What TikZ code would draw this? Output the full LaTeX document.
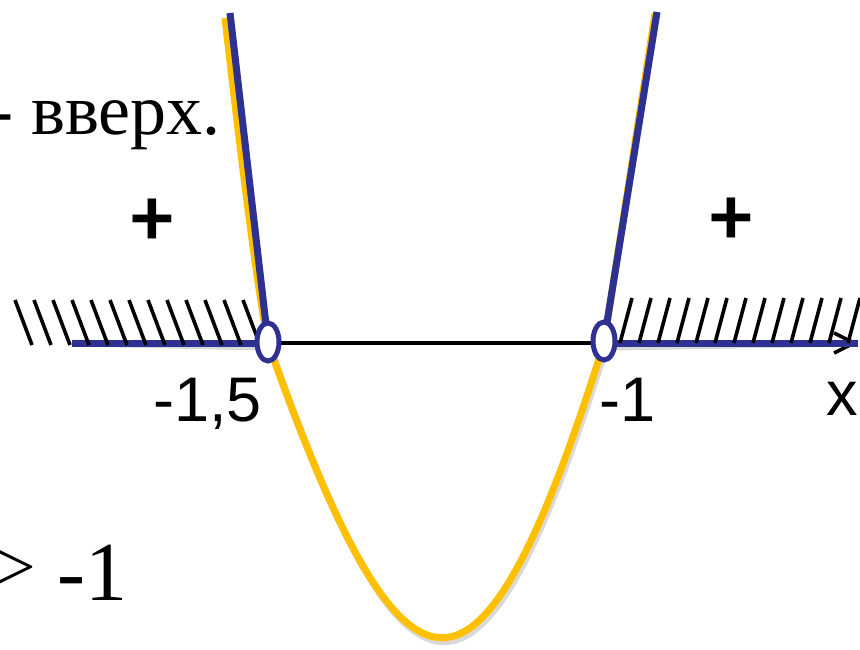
\documentclass[tikz,border=0pt]{standalone}
\usepackage{fontspec}
\setmainfont{Liberation Serif}
\newfontfamily\calfont{Carlito}
\newfontfamily\arfont{Liberation Sans}
\usetikzlibrary{arrows.meta,shapes.geometric}
\definecolor{curveblue}{HTML}{2E3192}
\definecolor{curveyellow}{HTML}{FFC000}
\tikzset{
  hatch/.style={line width=3.6pt, black},
  bluel/.style={line width=7pt, curveblue},
  yel/.style={line width=7pt, curveyellow},
  shadowl/.style={line width=7pt, black!25, opacity=0.6},
  hole/.style={draw=curveblue, fill=white, line width=5pt, ellipse, minimum width=22pt, minimum height=38pt, inner sep=0pt},
  lab/.style={inner sep=0pt, font=\arfont\fontsize{63}{63}\selectfont},
  sgn/.style={inner sep=0pt, font=\calfont\bfseries\fontsize{84}{84}\selectfont},
}
\begin{document}
\begin{tikzpicture}[x=1pt,y=-1pt]
\useasboundingbox (0,0) rectangle (860,650);
% named points
\coordinate (L) at (268,342);
\coordinate (R) at (604,341);
\coordinate (axL) at (72,343);
\coordinate (axR) at (858,343);
\coordinate (ltop) at (230,13);
\coordinate (rtop) at (657,12);
\coordinate (ytopL) at (225,18);
\coordinate (ytopR) at (655,14);
% shadows
\begin{scope}[shift={(2,4)}]
  \draw[shadowl] (axL) -- (262,343);
  \draw[shadowl] (612,343) -- (axR);
  \draw[shadowl] (268,343) .. controls (407,736) and (481,736) .. (604,343);
  \draw[shadowl] (ltop) -- (L);
  \draw[shadowl] (rtop) -- (R);
\end{scope}
% axis
\draw[line width=3.5pt, -{Straight Barb[length=20pt, width=20pt, line width=3.5pt]}] (axL) -- (axR);
% yellow parabola
\draw[yel] (ytopL) .. controls (240,150) and (256,280) .. (268,343)
  .. controls (407,736) and (481,736) .. (604,343) -- (ytopR);
% blue parts
\draw[bluel] (axL) -- (262,343);
\draw[bluel] (612,343) -- (axR);
\draw[bluel] (ltop) -- (L);
\draw[bluel] (rtop) -- (R);
% hatches
\foreach \x in {15,34,53,72,91,110,129,148,167,186,205,224,243}
  \draw[hatch] (\x,300) -- ++(17,45);
\foreach \x in {632,651,670,689,708,727,746,765,784,803,822,841,860}
  \draw[hatch] (\x,298) -- ++(-12,45);
% holes
\node[hole] (hL) at (L) {};
\node[hole] (hR) at (R) {};
% texts
\node[inner sep=0pt, anchor=base east, font=\fontsize{72}{72}\selectfont] (t1) at (221,135) {- вверх.};
\node[sgn] (p1) at (152,222) {+};
\node[sgn] (p2) at (731,221) {+};
\node[lab, anchor=base east] (a1) at (262,421) {-1,5};
\node[lab, anchor=base west] (a2) at (599,421) {-1};
\node[lab, anchor=base west] (ax) at (826,415) {x};
\node[inner sep=0pt, anchor=base east, font=\fontsize{70}{70}\selectfont] (g1) at (36,590) {>};
\node[inner sep=0pt, anchor=base west, font=\fontsize{84}{84}\selectfont] (g2) at (57,600) {-1};
\end{tikzpicture}
\end{document}
